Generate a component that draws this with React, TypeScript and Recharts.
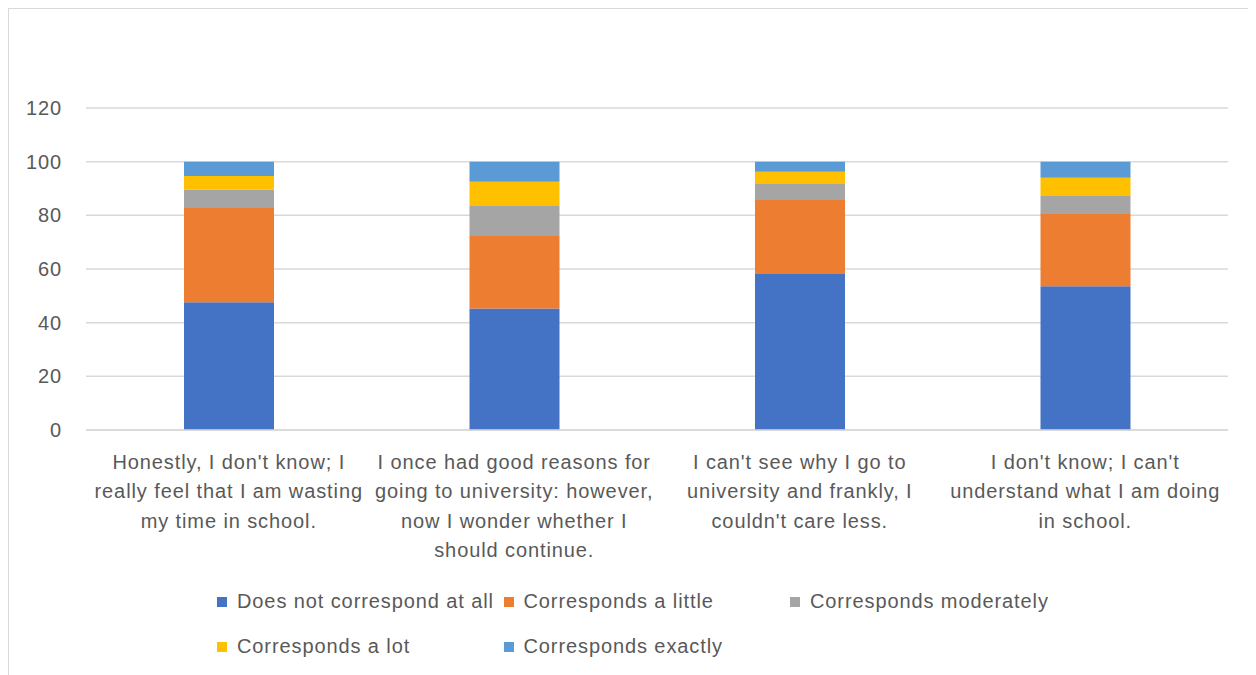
import React from 'react';
import { BarChart, Bar, XAxis, YAxis, CartesianGrid } from 'recharts';

// statements, pre-wrapped the way they appear under each bar
const statements: string[][] = [
  ["Honestly, I don't know; I", 'really feel that I am wasting', 'my time in school.'],
  ['I once had good reasons for', 'going to university: however,', 'now I wonder whether I', 'should continue.'],
  ["I can't see why I go to", 'university and frankly, I', "couldn't care less."],
  ["I don't know; I can't", 'understand what I am doing', 'in school.'],
];

const notAtAll = [47.6, 45.3, 58.1, 53.6];
const aLittle = [35.1, 27.0, 27.6, 26.9];
const moderately = [6.8, 11.2, 6.0, 6.7];
const aLot = [5.2, 9.0, 4.5, 6.8];
const exactly = [5.3, 7.5, 3.8, 6.0];

const yTicks = [0, 20, 40, 60, 80, 100, 120];

const series = [
  { key: 'notAtAll', name: 'Does not correspond at all', color: '#4472C4' },
  { key: 'aLittle', name: 'Corresponds a little', color: '#ED7D31' },
  { key: 'moderately', name: 'Corresponds moderately', color: '#A5A5A5' },
  { key: 'aLot', name: 'Corresponds a lot', color: '#FFC000' },
  { key: 'exactly', name: 'Corresponds exactly', color: '#5B9BD5' },
];

const data = statements.map((lines, i) => ({
  label: lines.join(' '),
  notAtAll: notAtAll[i],
  aLittle: aLittle[i],
  moderately: moderately[i],
  aLot: aLot[i],
  exactly: exactly[i],
}));

const FONT = '"Liberation Sans", Arial, sans-serif';
const TEXT = '#595959';
const SPACING = 0.9;

const StatementTick = (props: any) => {
  const { x, y, index } = props;
  const lines = statements[index] || [];
  return (
    <text
      x={x}
      y={y + 39}
      textAnchor="middle"
      fill={TEXT}
      fontSize={20}
      fontFamily={FONT}
      letterSpacing={SPACING}
    >
      {lines.map((line, i) => (
        <tspan key={i} x={x} dy={i === 0 ? 0 : 29.3}>
          {line}
        </tspan>
      ))}
    </text>
  );
};

const GridLegend = () => (
  <div
    style={{
      position: 'absolute',
      left: 208,
      top: 581,
      display: 'grid',
      gridTemplateColumns: '286.5px 286.5px 286.5px',
      rowGap: 22,
      fontFamily: FONT,
      fontSize: 20,
      letterSpacing: SPACING,
      color: TEXT,
    }}
  >
    {series.map((s) => (
      <div key={s.key} style={{ display: 'flex', alignItems: 'center', height: 23 }}>
        <span style={{ width: 10, height: 10, background: s.color, marginRight: 10, flexShrink: 0 }} />
        <span style={{ whiteSpace: 'nowrap' }}>{s.name}</span>
      </div>
    ))}
  </div>
);

export default function App() {
  return (
    <div
      style={{
        position: 'relative',
        width: 1246,
        height: 680,
        border: '1px solid #d9d9d9',
        background: '#fff',
      }}
    >
      <BarChart
        width={1246}
        height={666}
        data={data}
        margin={{ top: 99, right: 27, left: 0, bottom: 105 }}
        barSize={90}
      >
        <CartesianGrid vertical={false} stroke="#d9d9d9" strokeWidth={1.5} />
        <XAxis
          dataKey="label"
          interval={0}
          tickLine={false}
          axisLine={{ stroke: '#d9d9d9', strokeWidth: 1.5 }}
          tickSize={0}
          tickMargin={0}
          height={140}
          tick={<StatementTick />}
        />
        <YAxis
          width={77}
          domain={[0, 120]}
          ticks={yTicks}
          axisLine={false}
          tickLine={false}
          tickSize={0}
          tickMargin={24}
          tick={{ fill: TEXT, fontSize: 20, fontFamily: FONT, letterSpacing: SPACING }}
        />
        {series.map((s) => (
          <Bar key={s.key} dataKey={s.key} name={s.name} stackId="a" fill={s.color} isAnimationActive={false} />
        ))}
      </BarChart>
      <GridLegend />
    </div>
  );
}
